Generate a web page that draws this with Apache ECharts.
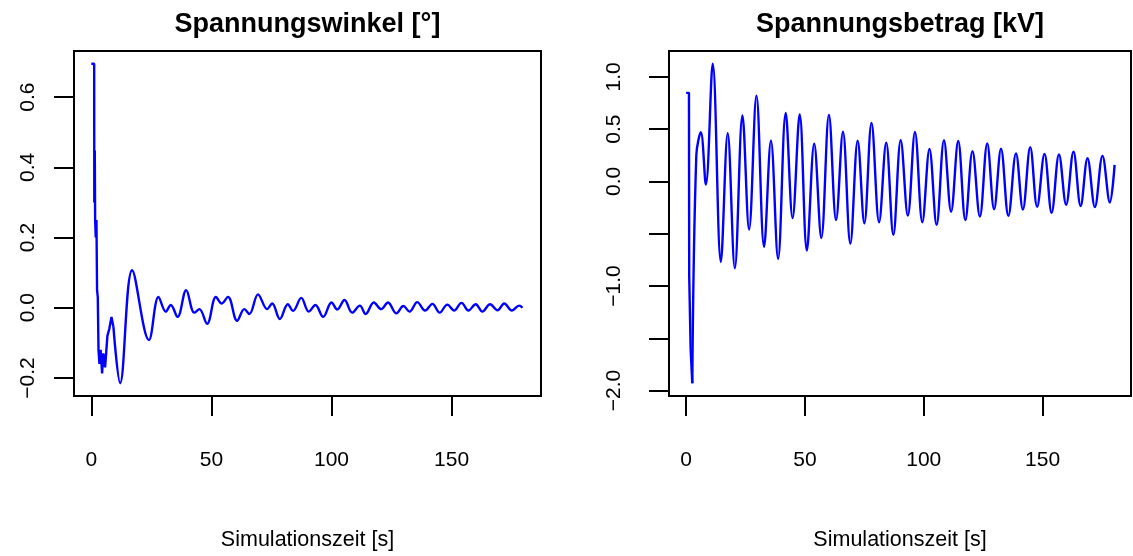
<!DOCTYPE html>
<html>
<head>
<meta charset="utf-8">
<script src="https://cdn.jsdelivr.net/npm/echarts@6/dist/echarts.min.js"></script>
<style>
html,body{margin:0;padding:0;background:#fff;}
#chart{width:1133px;height:556px;}
</style>
</head>
<body>
<div id="chart"></div>
<script>
// ---- Data ----
const titles = ["Spannungswinkel [°]", "Spannungsbetrag [kV]"];
const xLabel = "Simulationszeit [s]";
const xTicks = [0, 50, 100, 150];
const leftYTicks = [-0.2, 0.0, 0.2, 0.4, 0.6];
const rightYTicks = [-2.0, -1.5, -1.0, -0.5, 0.0, 0.5, 1.0];
const rightYLabels = [-2.0, -1.0, 0.0, 0.5, 1.0];

// Spannungswinkel: initial jagged transient
const angleTransient = [
  [0, 0.695], [1.2, 0.695], [1.25, 0.30], [1.45, 0.448], [1.6, 0.25], [1.86, 0.20],
  [2.14, 0.25], [2.4, 0.05], [2.7, 0.03], [3.0, -0.12], [3.4, -0.16], [3.9, -0.12],
  [4.5, -0.187], [5.0, -0.13], [5.75, -0.17], [6.7, -0.08], [7.5, -0.06], [8.4, -0.026],
  [9.2, -0.054]
];
// Spannungswinkel: smooth oscillation (peaks / troughs)
const angleOsc = [
  [9.2, -0.054], [12.0, -0.215], [17.0, 0.107], [24.0, -0.092], [28.0, 0.031], [31.0, -0.011],
  [33.1, 0.008], [35.9, -0.026], [39.5, 0.05], [42.9, -0.014], [45.0, -0.004], [48.2, -0.046],
  [51.9, 0.031], [54.3, 0.012], [56.9, 0.031], [60.7, -0.037], [63.7, -0.004], [65.8, -0.018],
  [69.4, 0.038], [73.2, -0.004], [75.3, 0.012], [78.5, -0.032], [81.8, 0.010], [84.0, -0.009],
  [87.4, 0.028], [90.5, -0.011], [93.3, 0.008], [96.5, -0.026], [100.0, 0.015], [102.4, -0.005],
  [105.4, 0.022], [108.6, -0.014], [111.8, 0.006], [114.2, -0.018], [117.6, 0.015], [120.7, -0.004],
  [123.5, 0.015], [127.0, -0.016], [129.9, 0.005], [132.5, -0.011], [135.7, 0.016], [138.9, -0.008],
  [142.0, 0.011], [145.0, -0.014], [148.2, 0.009], [151.0, -0.008], [154.1, 0.014], [157.0, -0.008],
  [160.0, 0.010], [162.8, -0.011], [166.0, 0.010], [169.1, -0.007], [171.9, 0.012], [175.1, -0.008],
  [178.1, 0.006], [179.5, 0.0]
];
// Spannungsbetrag: initial step
const magTransient = [
  [0, 0.847], [1.2, 0.847], [1.3, -0.9], [1.9, -1.6], [2.6, -1.93]
];
// Spannungsbetrag: oscillation (peaks / troughs)
const magOsc = [
  [2.6, -1.93], [4.3, 0.25], [6.2, 0.47], [8.3, -0.03], [11.2, 1.125], [14.6, -0.77],
  [17.5, 0.46], [20.5, -0.83], [23.7, 0.63], [26.5, -0.46], [29.6, 0.82], [32.8, -0.625],
  [35.7, 0.39], [38.7, -0.74], [41.9, 0.655], [44.8, -0.35], [47.8, 0.64], [50.8, -0.66],
  [53.9, 0.36], [56.9, -0.54], [60.1, 0.635], [63.1, -0.37], [66.0, 0.475], [69.1, -0.595],
  [72.2, 0.39], [75.0, -0.40], [78.0, 0.56], [81.2, -0.39], [84.2, 0.37], [87.2, -0.51],
  [90.3, 0.395], [93.3, -0.327], [96.3, 0.473], [99.4, -0.39], [102.4, 0.31], [105.4, -0.416],
  [108.5, 0.393], [111.5, -0.29], [114.5, 0.387], [117.5, -0.37], [120.5, 0.29], [123.6, -0.336],
  [126.7, 0.364], [129.6, -0.266], [132.5, 0.312], [135.6, -0.33], [138.8, 0.268], [141.7, -0.27],
  [144.8, 0.328], [147.7, -0.243], [150.8, 0.263], [153.8, -0.30], [156.9, 0.257], [159.9, -0.223],
  [163.0, 0.285], [166.0, -0.235], [168.9, 0.222], [172.0, -0.246], [175.2, 0.244], [178.3, -0.202],
  [180.3, 0.158]
];

// ---- Chart ----
const FONT = "'Liberation Sans', Arial, Helvetica, sans-serif";
const chart = echarts.init(document.getElementById('chart'), null, {renderer: 'canvas'});

function rExt(arrs) {
  let mn = Infinity, mx = -Infinity;
  arrs.forEach(a => a.forEach(p => { mn = Math.min(mn, p[1]); mx = Math.max(mx, p[1]); }));
  const e = (mx - mn) * 0.04;
  return [mn - e, mx + e];
}
const leftY = rExt([angleTransient, angleOsc]);
const rightY = rExt([magTransient, magOsc]);

function xAxisDef(idx) {
  return {
    type: 'value', gridIndex: idx, min: -7.2, max: 187.2,
    splitLine: {show: false}, axisLine: {show: false, onZero: false},
    axisTick: {show: true, inside: false, length: 20, customValues: xTicks,
      lineStyle: {color: '#000', width: 2}},
    axisLabel: {show: true, margin: 54, customValues: xTicks, color: '#000',
      fontSize: 21, fontFamily: FONT},
    name: xLabel, nameLocation: 'middle', nameGap: 133,
    nameTextStyle: {color: '#000', fontSize: 21.5, fontFamily: FONT}
  };
}
function yAxisDef(idx, rng, ticks, labels, margin) {
  return {
    type: 'value', gridIndex: idx, min: rng[0], max: rng[1],
    splitLine: {show: false}, axisLine: {show: false, onZero: false},
    axisTick: {show: true, inside: false, length: 20, customValues: ticks,
      lineStyle: {color: '#000', width: 2}},
    axisLabel: {show: true, rotate: 90, margin: margin, customValues: labels, color: '#000',
      fontSize: 21, fontFamily: FONT,
      formatter: v => (v < 0 ? '\u2212' : '') + Math.abs(v).toFixed(1)}
  };
}
function lineSeries(xi, data, smooth) {
  return {
    type: 'line', xAxisIndex: xi, yAxisIndex: xi, data: data,
    showSymbol: false, symbol: 'none', smooth: smooth,
    lineStyle: {color: '#0000FF', width: 2.4}, itemStyle: {color: '#0000FF'},
    animation: false, silent: true
  };
}

chart.setOption({
  animation: false,
  backgroundColor: '#fff',
  grid: [
    {left: 74, top: 51, width: 467, height: 345, show: true, borderColor: '#000', borderWidth: 2, backgroundColor: 'transparent'},
    {left: 669, top: 51, width: 462, height: 345, show: true, borderColor: '#000', borderWidth: 2, backgroundColor: 'transparent'}
  ],
  xAxis: [xAxisDef(0), xAxisDef(1)],
  yAxis: [
    yAxisDef(0, leftY, leftYTicks, leftYTicks, 35),
    yAxisDef(1, rightY, rightYTicks, rightYLabels, 44)
  ],
  graphic: [
    {type: 'text', x: 307.5, y: 25, style: {text: titles[0], x: 0, y: 0,
      textAlign: 'center', textVerticalAlign: 'middle', fill: '#000',
      font: "bold 27px " + FONT}},
    {type: 'text', x: 900, y: 25, style: {text: titles[1], x: 0, y: 0,
      textAlign: 'center', textVerticalAlign: 'middle', fill: '#000',
      font: "bold 27px " + FONT}}
  ],
  series: [
    lineSeries(0, angleTransient, false),
    lineSeries(0, angleOsc, 0.37),
    lineSeries(1, magTransient, false),
    lineSeries(1, magOsc, 0.37)
  ]
});
</script>
</body>
</html>
